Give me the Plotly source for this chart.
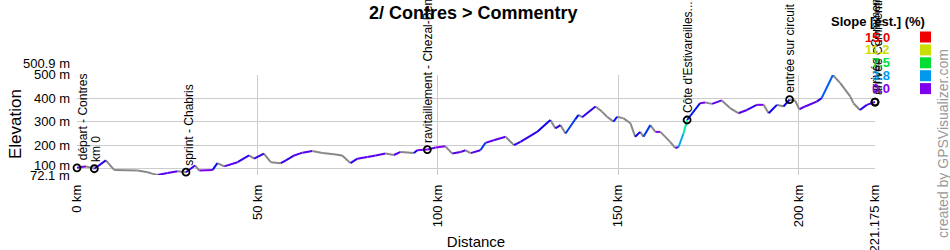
import numpy as np
import colorsys
import plotly.graph_objects as go

# ---------------- data ----------------
title = "2/ Contres > Commentry"
dist_km = [0, 1.1, 2.5, 4.8, 8.0, 10.3, 13.6, 16.8, 19.6, 20.8, 22.3, 25.1, 27.9, 30.2,
           32.7, 33.9, 37.6, 38.9, 40.8, 44.5, 47.7, 49.1, 51.8, 53.7, 56.5, 57.9, 60.2,
           62.5, 65.2, 68.0, 71.2, 73.5, 75.8, 77.7, 80.5, 82.8, 85.5, 87.8, 89.7, 93.4,
           94.3, 97.1, 99.4, 102.1, 104.0, 106.3, 107.7, 109.1, 111.8, 113.2, 115.5, 118.8,
           121.1, 122.9, 127.5, 131.2, 132.6, 134.0, 135.4, 138.1, 139.0, 140.0, 143.7,
           145.5, 146.9, 148.7, 149.7, 151.5, 153.4, 154.7, 156.1, 157.0, 158.9, 160.3,
           161.7, 164.4, 165.8, 166.7, 168.1, 169.1, 172.7, 174.1, 176.0, 178.7, 181.0,
           183.3, 185.7, 188.4, 190.3, 191.7, 194.0, 195.8, 197.5, 199.0, 200.2, 201.8,
           205.0, 206.4, 209.5, 211.5, 214.3, 215.2, 217.0, 218.9, 221.175]
elev_m = [103, 106, 109, 99, 135, 94, 92, 91, 84, 78, 72.1, 81, 88, 84,
          113, 91, 94, 123, 109, 127, 156, 142, 164, 127, 123, 135, 156,
          168, 175, 166, 161, 156, 123, 142, 149, 156, 164, 158, 171, 166,
          178, 181, 190, 195, 164, 171, 178, 166, 178, 210, 221, 236,
          200, 214, 257, 308, 272, 286, 250, 311, 330, 320, 366,
          344, 322, 301, 322, 315, 294, 236, 257, 236, 286, 257,
          257, 214, 188, 192, 250, 308, 380, 383, 377, 392, 359,
          337, 351, 373, 373, 337, 373, 366, 395, 392, 354, 366,
          387, 402, 500.9, 467, 409, 380, 351, 373, 385]

wp_km = [0, 4.8, 30.2, 97.1, 169.1, 197.5, 221.175, 221.175]
wp_names = ["départ - Contres", "km 0", "sprint - Chabris",
            "ravitaillement - Chezal-Benoît", "Côte d'Estivareilles...",
            "entrée sur circuit", "arrivée - Commentry", "arrivée Commentry"]

x_ticks = [0, 50, 100, 150, 200, 221.175]
x_ticktext = ["0 km", "50 km", "100 km", "150 km", "200 km", "221.175 km"]
y_ticks = [72.1, 100, 200, 300, 400, 500, 500.9]
y_ticktext = ["72.1 m", "100 m", "200 m", "300 m", "400 m", "500 m", "500.9 m"]
y_label_shift = [0, 3, 0, 0, 0, 1, 12]
y_min, y_max = 72.1, 500.9

legend_vals = [15.0, 11.2, 7.5, 3.8, 0.0]
legend_cols = ["#ee0000", "#ccdd00", "#00dd33", "#0099ee", "#7f00ee"]
legend_title = "Slope [est.] (%)"

FONT = "Liberation Sans, Arial, sans-serif"

# plot area in pixels
L, R, T, B = 77, 875, 75, 175
W, H = 950, 250


def px(x):
    return (x - L) / (R - L)


def py(y):
    return (B - y) / (B - T)


# ---------------- colour by slope ----------------
hue_pts_slope = [0.0, 3.8, 7.5, 11.2, 15.0]
hue_pts_hue = [272, 201, 134, 65, 0]


def hsv_hex(h):
    r, g, b = colorsys.hsv_to_rgb((h % 360) / 360.0, 1.0, 0.93)
    return "#%02x%02x%02x" % (int(r * 255), int(g * 255), int(b * 255))


d = np.array(dist_km)
e = np.array(elev_m)
groups = {}
for i in range(len(d) - 1):
    slope = (e[i + 1] - e[i]) / ((d[i + 1] - d[i]) * 1000) * 100
    if slope < 0:
        col = "#888888"
    else:
        s = min(15.0, round(slope * 2) / 2)
        col = hsv_hex(np.interp(s, hue_pts_slope, hue_pts_hue))
    g = groups.setdefault(col, ([], []))
    g[0].extend([d[i], d[i + 1], None])
    g[1].extend([e[i], e[i + 1], None])

fig = go.Figure()
for col, (xs, ys) in groups.items():
    fig.add_trace(go.Scatter(x=xs, y=ys, mode="lines",
                             line=dict(color=col, width=2),
                             hoverinfo="skip", showlegend=False, cliponaxis=False))

wp_elev = np.interp(wp_km, d, e)
fig.add_trace(go.Scatter(x=wp_km, y=wp_elev, mode="markers",
                         marker=dict(symbol="circle-open", size=7, color="black",
                                     line=dict(width=1.8)),
                         showlegend=False, cliponaxis=False))

shifts = [6, 1, 3, 0, 1, 1, 1, 3]
for k, n, ev, sh in zip(wp_km, wp_names, wp_elev, shifts):
    fig.add_annotation(x=k, y=ev, text=n, textangle=-90, showarrow=False,
                       xanchor="center", yanchor="bottom", xshift=sh, yshift=5,
                       font=dict(family=FONT, size=12, color="black"))

# y tick labels
for v, t, s in zip(y_ticks, y_ticktext, y_label_shift):
    fig.add_annotation(x=0, y=v, xref="paper", yref="y", text=t,
                       showarrow=False, xanchor="right", yanchor="middle",
                       xshift=-5, yshift=s, font=dict(family=FONT, size=13, color="black"))

# axis title (y)
fig.add_annotation(x=px(15), y=py(124), xref="paper", yref="paper", text="Elevation",
                   textangle=-90, showarrow=False, xanchor="center", yanchor="middle",
                   font=dict(family=FONT, size=17, color="black"))

# title
fig.add_annotation(x=px(473), y=py(13), xref="paper", yref="paper", text=f"<b>{title}</b>",
                   showarrow=False, xanchor="center", yanchor="middle",
                   font=dict(family=FONT, size=18, color="black"))

# legend
fig.add_annotation(x=px(927), y=py(21), xref="paper", yref="paper",
                   text=f"<b>{legend_title}</b>", showarrow=False,
                   xanchor="right", yanchor="middle", font=dict(family=FONT, size=13, color="black"))
for j, (v, c) in enumerate(zip(legend_vals, legend_cols)):
    yy = 37 + j * 12.9
    txt = f"{v:.1f}"
    wdt = sum(3.6 if ch == "." else 7.23 for ch in txt)
    fig.add_annotation(x=px(888 - wdt), y=py(yy), xref="paper", yref="paper",
                       text=f"<b>{txt}</b>", showarrow=False,
                       xanchor="left", yanchor="middle",
                       font=dict(family=FONT, size=13, color=c))
    fig.add_shape(type="rect", xref="paper", yref="paper",
                  x0=px(920), x1=px(931), y0=py(yy + 5.5), y1=py(yy - 5.5),
                  fillcolor=c, line=dict(width=0))

fig.add_annotation(x=px(943), y=py(144), xref="paper", yref="paper",
                   text="created by GPSVisualizer.com", textangle=-90,
                   showarrow=False, xanchor="center", yanchor="middle",
                   font=dict(family=FONT, size=14, color="#999999"))

fig.update_layout(
    width=W, height=H,
    margin=dict(l=L, r=W - R, t=T, b=H - B, autoexpand=False),
    plot_bgcolor="white", paper_bgcolor="white",
    font=dict(family=FONT, size=13, color="black"),
    showlegend=False,
    xaxis=dict(range=[0, 221.175], tickvals=x_ticks, ticktext=x_ticktext, tickangle=-90,
               showgrid=True, gridcolor="#cccccc", gridwidth=1, zeroline=False,
               showline=False, ticks="", ticklabelstandoff=6, automargin=False,
               title=dict(text="Distance", font=dict(size=15), standoff=4)),
    yaxis=dict(range=[y_min, y_max], tickvals=y_ticks[:-1], showticklabels=False,
               showgrid=True, gridcolor="#cccccc", gridwidth=1, zeroline=False,
               showline=False, ticks="", automargin=False),
)
fig.write_html("out.html")
